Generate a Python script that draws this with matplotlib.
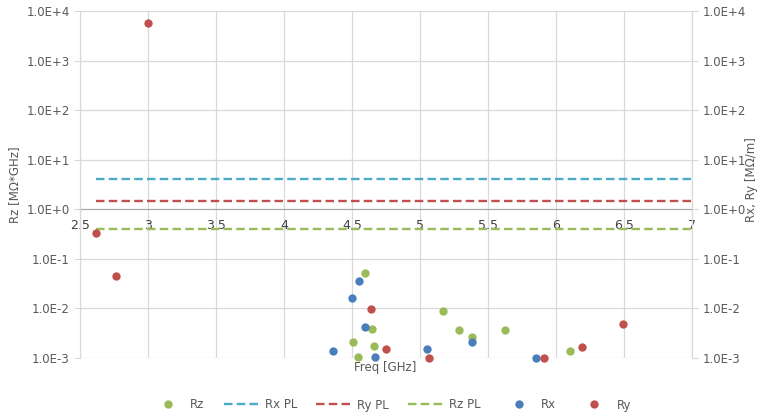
import matplotlib.pyplot as plt
from matplotlib.lines import Line2D

# measured resistances vs frequency
rz_freq = [4.595, 4.645, 4.505, 4.664, 4.546, 5.17, 5.29, 5.386, 5.627, 6.10]
rz_vals = [0.051, 0.0038, 0.0021, 0.00178, 0.00107, 0.0087, 0.0036, 0.0026, 0.0036, 0.00137]

rx_freq = [4.36, 4.549, 4.502, 4.592, 4.668, 5.05, 5.386, 5.85]
rx_vals = [0.0014, 0.0358, 0.0165, 0.0042, 0.00104, 0.00155, 0.0021, 0.00102]

ry_freq = [2.62, 2.767, 3.0, 4.64, 4.75, 5.067, 5.91, 6.19, 6.49]
ry_vals = [0.34, 0.046, 5800, 0.0098, 0.0015, 0.001, 0.00102, 0.00166, 0.0049]

# power-limit levels
pl_freq = [2.62, 7.0]
rx_pl = 4.0
ry_pl = 1.5
rz_pl = 0.4

xticks = [2.5, 3, 3.5, 4, 4.5, 5, 5.5, 6, 6.5, 7]
xtick_labels = ["2.5", "3", "3.5", "4", "4.5", "5", "5.5", "6", "6.5", "7"]
yticks = [1e-3, 1e-2, 1e-1, 1e0, 1e1, 1e2, 1e3, 1e4]
ytick_labels = ["1.0E-3", "1.0E-2", "1.0E-1", "1.0E+0", "1.0E+1", "1.0E+2", "1.0E+3", "1.0E+4"]

GREEN = "#9bbb59"
BLUE = "#4a7ebb"
RED = "#c0504d"
CYAN = "#4bacc6"
GRID = "#d9d9d9"
TXT = "#595959"

plt.rcParams["font.family"] = "DejaVu Sans"
plt.rcParams["font.size"] = 8.5

fig = plt.figure(figsize=(7.61, 4.16), dpi=100)
ax = fig.add_axes([80 / 761, 1 - 358 / 416, 612 / 761, 347 / 416])
ax2 = ax.twinx()

for a in (ax, ax2):
    a.set_yscale("log")
    a.set_ylim(1e-3, 1e4)
    a.set_xlim(2.5, 7)
    a.minorticks_off()
    a.set_yticks(yticks)
    a.set_yticklabels(ytick_labels)
    a.tick_params(axis="y", colors=GRID, labelcolor=TXT, length=4, width=0.8, labelsize=8.5)
    a.spines["top"].set_visible(False)
    a.spines["left"].set_color(GRID)
    a.spines["right"].set_color(GRID)
    a.spines["bottom"].set_visible(False)

ax.set_zorder(ax2.get_zorder() - 1)
ax2.patch.set_visible(False)

ax.grid(True, color=GRID, linewidth=0.9)
ax.set_axisbelow(True)

# x axis crosses at 1.0
ax.spines["bottom"].set_visible(True)
ax.spines["bottom"].set_position(("data", 1.0))
ax.spines["bottom"].set_color("#a6a6a6")
ax.set_xticks(xticks)
ax.set_xticklabels(xtick_labels)
ax.tick_params(axis="x", length=0, pad=7, labelcolor="#404040", labelsize=9)
ax2.tick_params(axis="x", length=0, labelbottom=False)

dash = dict(linestyle=(0, (3.6, 1.8)), linewidth=1.7)
ax.plot(pl_freq, [rx_pl, rx_pl], color=CYAN, **dash)
ax.plot(pl_freq, [ry_pl, ry_pl], color=RED, **dash)
ax.plot(pl_freq, [rz_pl, rz_pl], color=GREEN, **dash)

ms = 6
ax.plot(rz_freq, rz_vals, "o", color=GREEN, markersize=ms, markeredgewidth=0, zorder=3, clip_on=False)
ax2.plot(rx_freq, rx_vals, "o", color=BLUE, markersize=ms, markeredgewidth=0, zorder=3, clip_on=False)
ax2.plot(ry_freq, ry_vals, "o", color=RED, markersize=ms, markeredgewidth=0, zorder=4, clip_on=False)

fig.text(15 / 761, 1 - 185 / 416, "Rz [MΩ*GHz]", rotation=90, ha="center", va="center", color=TXT, fontsize=8.5)
fig.text(752 / 761, 1 - 180 / 416, "Rx, Ry [MΩ/m]", rotation=90, ha="center", va="center", color=TXT, fontsize=8.5)
fig.text(385 / 761, 1 - 368 / 416, "Freq [GHz]", ha="center", va="center", color=TXT, fontsize=8.5)

handles = [
    Line2D([], [], marker="o", linestyle="none", color=GREEN, markersize=ms, markeredgewidth=0),
    Line2D([], [], color=CYAN, **dash),
    Line2D([], [], color=RED, **dash),
    Line2D([], [], color=GREEN, **dash),
    Line2D([], [], marker="o", linestyle="none", color=BLUE, markersize=ms, markeredgewidth=0),
    Line2D([], [], marker="o", linestyle="none", color=RED, markersize=ms, markeredgewidth=0),
]
labels = ["Rz", "Rx PL", "Ry PL", "Rz PL", "Rx", "Ry"]
leg = fig.legend(handles, labels, loc="center", bbox_to_anchor=(390 / 761, 1 - 405 / 416),
                 ncol=6, frameon=False, handlelength=3.2, handletextpad=0.3,
                 columnspacing=1.6, fontsize=8.5)
for t in leg.get_texts():
    t.set_color(TXT)

fig.savefig("out.png", dpi=100)
